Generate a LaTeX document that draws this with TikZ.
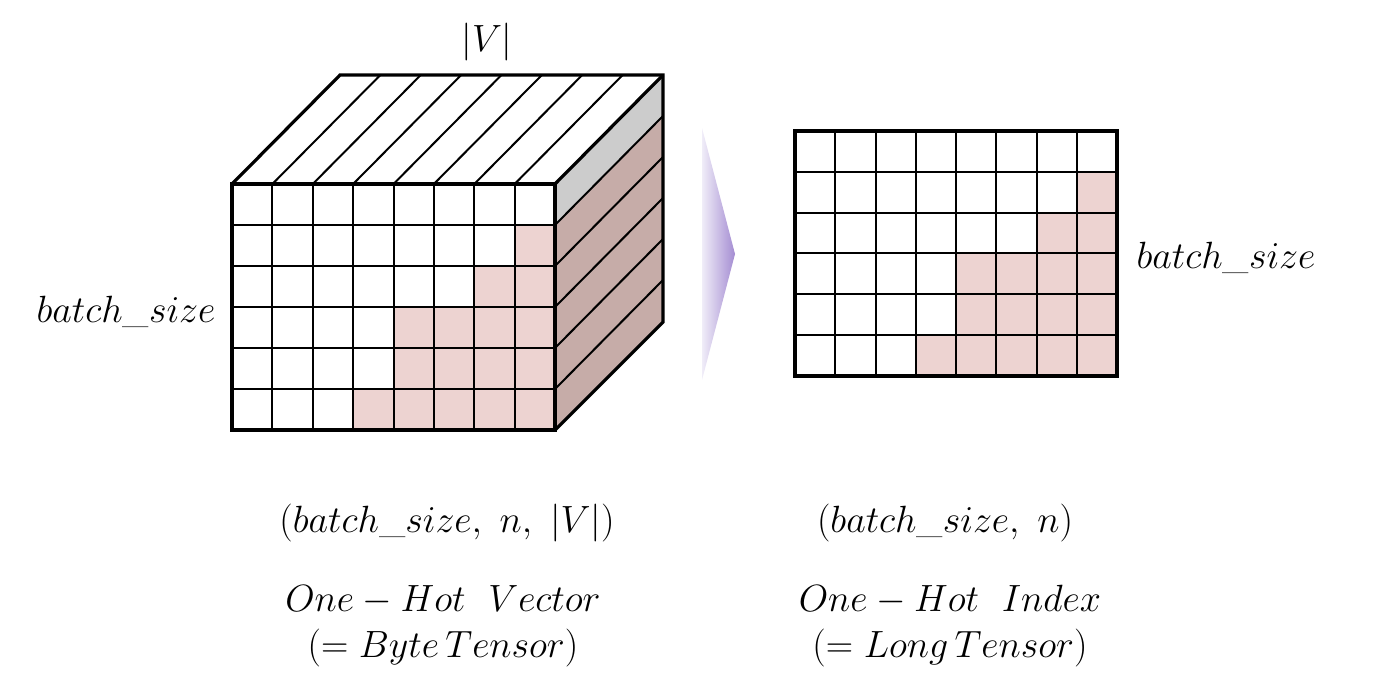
\documentclass[tikz,border=0pt]{standalone}
\usepackage{amsmath}
\definecolor{pinkc}{HTML}{EDD3D1}
\definecolor{sidec}{HTML}{C6ACA8}
\definecolor{grayc}{HTML}{CCCCCC}
\definecolor{arrL}{HTML}{F0EDF8}
\definecolor{arrR}{HTML}{A48CD2}
\begin{document}
\begin{tikzpicture}[x=0.5pt,y=-0.5pt,
  inner/.style={line width=1pt},
  outer/.style={line width=1.6pt, line join=miter},
  lbl/.style={font=\fontsize{20.74}{25}\selectfont, inner sep=0pt, scale=0.915, transform shape}]
\useasboundingbox (0,0) rectangle (1400,696);
% ---------- cube ----------
\def\cw{40.375}\def\ch{41}
% top face
\fill[white] (232,184) -- (340,75) -- (663,75) -- (555,184) -- cycle;
\foreach \i in {1,...,7} \draw[inner] (232+\i*\cw,184) -- ++(108,-109);
% right face
\fill[grayc] (555,184) -- (663,75) -- (663,116) -- (555,225) -- cycle;
\fill[sidec] (555,225) -- (663,116) -- (663,322) -- (555,430) -- cycle;
\foreach \j in {1,...,5} \draw[inner] (555,184+\j*\ch) -- ++(108,-109);
% front face
\foreach \r/\s in {2/8,3/7,4/5,5/5,6/4}
  \fill[pinkc] (232+\s*\cw-\cw,184+\r*\ch-\ch) rectangle (555,184+\r*\ch);
\foreach \i in {1,...,7} \draw[inner] (232+\i*\cw,184) -- ++(0,246);
\foreach \j in {1,...,5} \draw[inner] (232,184+\j*\ch) -- ++(323,0);
\draw[outer] (232,184) rectangle (555,430);
\draw[outer] (232,184) -- (340,75) -- (663,75) -- (663,322) -- (555,430);
\draw[outer] (555,184) -- (663,75);
% ---------- arrow ----------
\shade[left color=arrL, right color=arrR] (702,128) -- (735,254) -- (702,380) -- cycle;
% ---------- right grid ----------
\def\gw{40.25}\def\gh{40.83}
\foreach \r/\s in {2/8,3/7,4/5,5/5,6/4}
  \fill[pinkc] (795+\s*\gw-\gw,131+\r*\gh-\gh) rectangle (1117,131+\r*\gh);
\foreach \i in {1,...,7} \draw[inner] (795+\i*\gw,131) -- ++(0,245);
\foreach \j in {1,...,5} \draw[inner] (795,131+\j*\gh) -- ++(322,0);
\draw[outer] (795,131) rectangle (1117,376);
% ---------- labels ----------
\node[lbl] (V) at (487,42) {$|V|$};
\node[lbl] (bsL) at (126,312) {$batch\_size$};
\node[lbl] (bsR) at (1226,258) {$batch\_size$};
\node[lbl] (shapeL) at (447,523) {$(batch\_size,\ n,\ |V|)$};
\node[lbl] (shapeR) at (945,523) {$(batch\_size,\ n)$};
\node[lbl] (nameL) at (443,600) {$One - Hot\ \ Vector$};
\node[lbl] (typeL) at (443,648) {$(= Byte\,Tensor)$};
\node[lbl] (nameR) at (950,600) {$One - Hot\ \ Index$};
\node[lbl] (typeR) at (950,648) {$(= Long\,Tensor)$};
\end{tikzpicture}
\end{document}
